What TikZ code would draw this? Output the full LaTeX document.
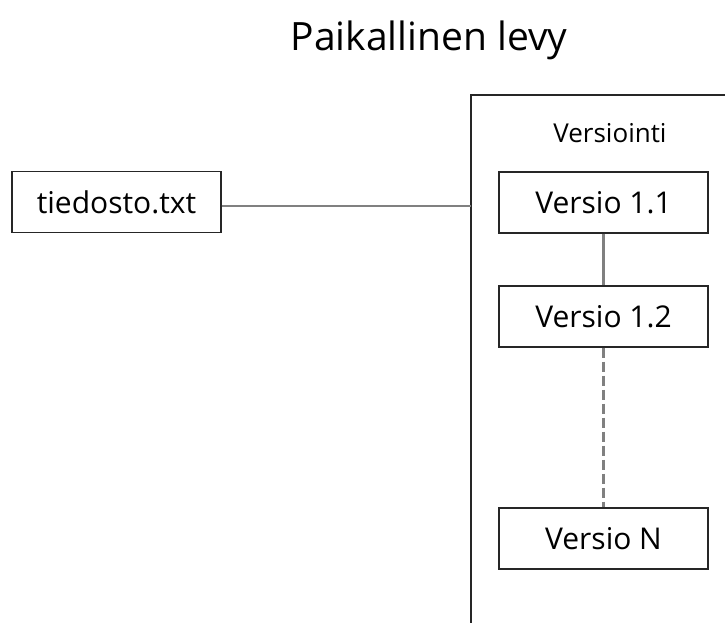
\documentclass[tikz,border=0pt]{standalone}
\usepackage{fontspec}
\setmainfont{Open Sans}
\begin{document}
\begin{tikzpicture}[x=1pt,y=-1pt,
  vbox/.style={draw=black!85,line width=1.2pt,minimum width=209pt,minimum height=61pt,inner sep=0pt,font=\fontsize{30}{34}\selectfont},
  conn/.style={draw=black!50,line width=2.5pt},
  dconn/.style={conn,dash pattern=on 10pt off 4pt}]
\useasboundingbox (0,0) rectangle (725,622);
\node[font=\fontsize{39}{45}\selectfont] (title) at (429,40) {Paikallinen levy};
\draw[draw=black!85,line width=1.2pt] (735,95) -- (471,95) -- (471,632);
\coordinate (cw) at (471,206);
\node[font=\fontsize{26}{30}\selectfont] (vlabel) at (610,133) {Versiointi};
\node[vbox] (tied) at (116.5,202) {tiedosto.txt};
\node[vbox] (v11) at (603.5,202.5) {Versio 1.1};
\node[vbox] (v12) at (603.5,316.5) {Versio 1.2};
\node[vbox] (vN) at (603.5,538.5) {Versio N};
\draw[conn] (tied.east |- cw) -- (cw);
\draw[conn] (v11) -- (v12);
\draw[dconn] (v12) -- (vN);
\end{tikzpicture}
\end{document}
